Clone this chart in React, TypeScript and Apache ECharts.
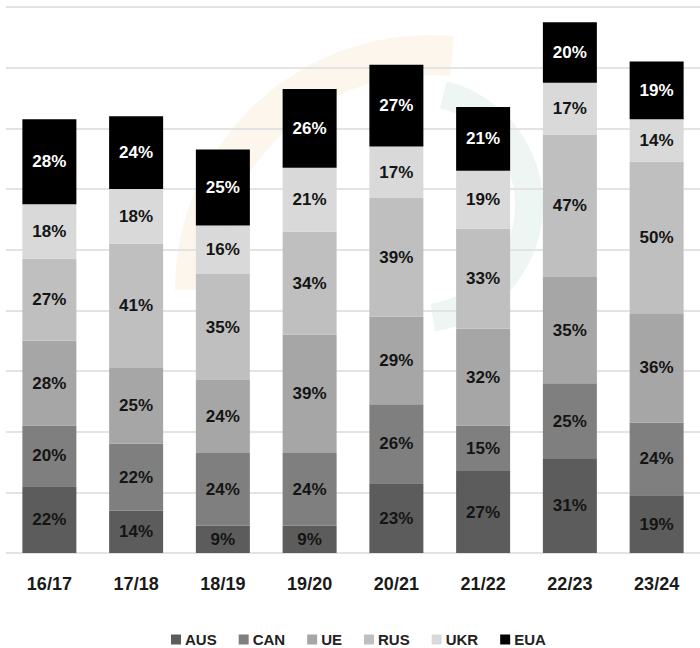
import React, { useEffect, useRef } from "react";
import * as echarts from "echarts";

const categories = ["16/17", "17/18", "18/19", "19/20", "20/21", "21/22", "22/23", "23/24"];
const seriesNames = ["AUS", "CAN", "UE", "RUS", "UKR", "EUA"];
const aus = [22, 14, 9, 9, 23, 27, 31, 19];
const can = [20, 22, 24, 24, 26, 15, 25, 24];
const ue = [28, 25, 24, 39, 29, 32, 35, 36];
const rus = [27, 41, 35, 34, 39, 33, 47, 50];
const ukr = [18, 18, 16, 21, 17, 19, 17, 14];
const eua = [28, 24, 25, 26, 27, 21, 20, 19];
const colors = ["#5c5c5c", "#7f7f7f", "#a6a6a6", "#bfbfbf", "#d9d9d9", "#000000"];
const labelColors = ["#141414", "#141414", "#141414", "#141414", "#141414", "#ffffff"];

const FONT = "'Liberation Sans', Arial, sans-serif";

export default function App() {
  const ref = useRef<HTMLDivElement>(null);
  useEffect(() => {
    if (!ref.current) return;
    const chart = echarts.init(ref.current, undefined, { renderer: "svg" });
    const values = [aus, can, ue, rus, ukr, eua];
    chart.setOption({
      animation: false,
      backgroundColor: "#ffffff",
      textStyle: { fontFamily: FONT },
      graphic: [
        {
          type: "sector",
          z: -10,
          silent: true,
          shape: { cx: 430, cy: 290, r0: 215, r: 255, startAngle: Math.PI, endAngle: Math.PI * 1.53, clockwise: true },
          style: { fill: "#f2dcb4", opacity: 0.25 },
        },
        {
          type: "sector",
          z: -10,
          silent: true,
          shape: { cx: 415, cy: 205, r0: 100, r: 128, startAngle: -Math.PI * 0.42, endAngle: Math.PI * 0.45, clockwise: true },
          style: { fill: "#a9d0c4", opacity: 0.2 },
        },
      ],
      grid: { left: 6, width: 696, top: 7, bottom: 95, containLabel: false },
      legend: {
        data: seriesNames,
        left: 166,
        top: 627,
        itemWidth: 10,
        itemHeight: 10,
        itemGap: 22,
        icon: "rect",
        textStyle: { fontFamily: FONT, fontSize: 15, fontWeight: "bold", color: "#222222", padding: [0, 0, 0, -1] },
      },
      xAxis: {
        type: "category",
        data: categories,
        axisLine: { show: false },
        axisTick: { show: false },
        axisLabel: { fontFamily: FONT, fontSize: 18, fontWeight: "bold", color: "#1a1a1a", margin: 22 },
      },
      yAxis: {
        type: "value",
        min: 0,
        max: 180,
        interval: 20,
        axisLabel: { show: false },
        axisLine: { show: false },
        axisTick: { show: false },
        splitLine: { lineStyle: { color: "#e3e3e3", width: 2 } },
      },
      series: seriesNames.map((name, i) => ({
        name,
        type: "bar",
        stack: "total",
        barWidth: 54,
        data: values[i],
        itemStyle: { color: colors[i] },
        label: {
          show: true,
          position: "inside",
          formatter: "{c}%",
          fontFamily: FONT,
          fontSize: 17,
          fontWeight: "bold",
          color: labelColors[i],
          textBorderWidth: 0,
        },
      })),
    });
    return () => chart.dispose();
  }, []);
  return <div ref={ref} style={{ width: 700, height: 648, position: "absolute", left: 0, top: 0 }} />;
}
